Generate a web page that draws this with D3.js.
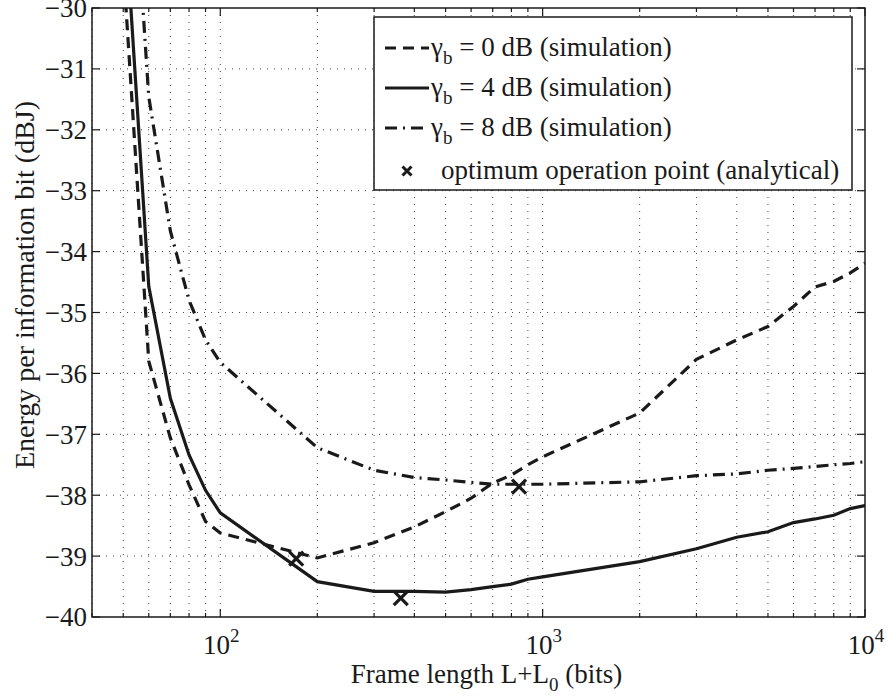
<!DOCTYPE html>
<html><head><meta charset="utf-8">
<script src="https://cdn.jsdelivr.net/npm/d3@7"></script>
<style>body{margin:0;background:#fff}svg{display:block}text{font-family:"Liberation Serif","Times New Roman",serif;fill:#1a1a1a}</style>
</head><body><svg id="c" width="886" height="698"></svg>
<script>
const frameLengths = [50,60,70,80,90,100,200,300,400,500,600,700,800,900,1000,2000,3000,4000,5000,6000,7000,8000,9000,10000];
const energy0dB = [-29.3,-35.8,-37.06,-37.83,-38.43,-38.62,-39.03,-38.78,-38.52,-38.27,-38.05,-37.8,-37.67,-37.5,-37.37,-36.65,-35.77,-35.45,-35.23,-34.9,-34.58,-34.49,-34.35,-34.19];
const energy4dB = [-28.05,-34.57,-36.41,-37.34,-37.92,-38.29,-39.42,-39.58,-39.58,-39.59,-39.55,-39.5,-39.46,-39.38,-39.34,-39.09,-38.88,-38.69,-38.6,-38.45,-38.39,-38.33,-38.22,-38.17];
const energy8dB = [-25.1,-31.46,-33.66,-34.8,-35.45,-35.82,-37.22,-37.59,-37.71,-37.75,-37.79,-37.82,-37.82,-37.82,-37.82,-37.78,-37.68,-37.65,-37.59,-37.56,-37.53,-37.5,-37.48,-37.45];
const optimumL = [172, 363, 845];
const optimumE = [-39.04, -39.69, -37.86];
const yTicks = [-40,-39,-38,-37,-36,-35,-34,-33,-32,-31,-30];
const xMajorTicks = [100, 1000, 10000];
const xMajorExp = ["2","3","4"];
const legendLabels = [" = 0 dB (simulation)", " = 4 dB (simulation)", " = 8 dB (simulation)", "optimum operation point (analytical)"];

const W = 886, H = 698;
const m = {l:92, t:8, r:21, b:81};
const svg = d3.select("#c");
const x = d3.scaleLog().domain([40, 10000]).range([m.l, W - m.r]);
const y = d3.scaleLinear().domain([-40, -30]).range([H - m.b, m.t]);
const ink = "#1a1a1a";

const xMinor = [];
for (let d = 10; d <= 1000; d *= 10) for (let k = 2; k <= 9; k++) { const v = k*d; if (v >= 40 && v < 10000) xMinor.push(v); }
const xAll = xMinor.concat(xMajorTicks.filter(v => v < 10000));

const grid = svg.append("g").attr("stroke", "#444").attr("stroke-width", 1).attr("stroke-dasharray", "1,6");
grid.selectAll("line.v").data(xAll).join("line")
  .attr("x1", d => x(d)).attr("x2", d => x(d)).attr("y1", m.t).attr("y2", H - m.b);
grid.selectAll("line.h").data(yTicks.filter(v => v > -40 && v < -30)).join("line")
  .attr("x1", m.l).attr("x2", W - m.r).attr("y1", d => y(d)).attr("y2", d => y(d));

const tk = svg.append("g").attr("stroke", ink).attr("stroke-width", 1.2);
xMinor.forEach(v => {
  tk.append("line").attr("x1", x(v)).attr("x2", x(v)).attr("y1", H - m.b).attr("y2", H - m.b - 4);
  tk.append("line").attr("x1", x(v)).attr("x2", x(v)).attr("y1", m.t).attr("y2", m.t + 4);
});
xMajorTicks.forEach(v => {
  tk.append("line").attr("x1", x(v)).attr("x2", x(v)).attr("y1", H - m.b).attr("y2", H - m.b - 8);
  tk.append("line").attr("x1", x(v)).attr("x2", x(v)).attr("y1", m.t).attr("y2", m.t + 8);
});
yTicks.forEach(v => {
  tk.append("line").attr("x1", m.l).attr("x2", m.l + 8).attr("y1", y(v)).attr("y2", y(v));
  tk.append("line").attr("x1", W - m.r).attr("x2", W - m.r - 8).attr("y1", y(v)).attr("y2", y(v));
});

const fmt = d3.format("d");
svg.append("g").selectAll("text").data(yTicks).join("text")
  .attr("x", m.l - 5).attr("y", d => y(d)).attr("dy", "0.35em")
  .attr("text-anchor", "end").attr("font-size", 27)
  .text(d => fmt(d));
const xl = svg.append("g").selectAll("text").data(xMajorTicks).join("text")
  .attr("x", d => x(d) + 1).attr("y", 654).attr("text-anchor", "middle").attr("font-size", 27);
xl.append("tspan").text("10");
xl.append("tspan").attr("font-size", 19).attr("dy", -12).text((d, i) => xMajorExp[i]);

const xlab = svg.append("text").attr("x", (m.l + W - m.r)/2 + 8).attr("y", 683).attr("text-anchor", "middle").attr("font-size", 27);
xlab.append("tspan").text("Frame length L+L");
xlab.append("tspan").attr("font-size", 19).attr("dy", 8).text("0");
xlab.append("tspan").attr("dy", -8).text(" (bits)");
svg.append("text").attr("transform", `translate(34,285) rotate(-90)`)
  .attr("text-anchor", "middle").attr("font-size", 28).text("Energy per information bit (dBJ)");

svg.append("clipPath").attr("id", "pc").append("rect")
  .attr("x", m.l).attr("y", m.t).attr("width", W - m.l - m.r).attr("height", H - m.t - m.b);

const series = [
  {vals: energy0dB, dash: "11,7"},
  {vals: energy4dB, dash: null},
  {vals: energy8dB, dash: "12,6,2,6"}
];
const line = d3.line().x(d => x(d[0])).y(d => y(d[1]));
const pg = svg.append("g").attr("clip-path", "url(#pc)");
series.forEach(s => {
  pg.append("path").datum(frameLengths.map((L, i) => [L, s.vals[i]]))
    .attr("d", line).attr("fill", "none").attr("stroke", ink).attr("stroke-width", 3.2)
    .attr("stroke-dasharray", s.dash);
});

function cross(g, cx, cy, r, w) {
  g.append("path").attr("d", `M${cx-r},${cy-r}L${cx+r},${cy+r}M${cx-r},${cy+r}L${cx+r},${cy-r}`)
    .attr("stroke", ink).attr("stroke-width", w).attr("fill", "none");
}
optimumL.forEach((L, i) => cross(pg, x(L), y(optimumE[i]), 7, 3.2));

svg.append("rect").attr("x", m.l).attr("y", m.t).attr("width", W - m.l - m.r).attr("height", H - m.t - m.b)
  .attr("fill", "none").attr("stroke", ink).attr("stroke-width", 1.5);

const lg = svg.append("g");
lg.append("rect").attr("x", 374).attr("y", 17).attr("width", 478).attr("height", 173)
  .attr("fill", "#fff").attr("stroke", ink).attr("stroke-width", 1.5);
const rowY = [48, 88, 128, 171];
series.forEach((s, i) => {
  lg.append("line").attr("x1", 385).attr("x2", 429).attr("y1", rowY[i]).attr("y2", rowY[i])
    .attr("stroke", ink).attr("stroke-width", 3.2).attr("stroke-dasharray", s.dash);
  const t = lg.append("text").attr("x", 431).attr("y", rowY[i] + 8).attr("font-size", 27);
  t.append("tspan").text("γ");
  t.append("tspan").attr("font-size", 19).attr("dy", 8).text("b");
  t.append("tspan").attr("dy", -8).text(legendLabels[i]);
});
cross(lg, 407, 171, 4.5, 3);
lg.append("text").attr("x", 441).attr("y", 179).attr("font-size", 27).text(legendLabels[3]);
</script></body></html>
